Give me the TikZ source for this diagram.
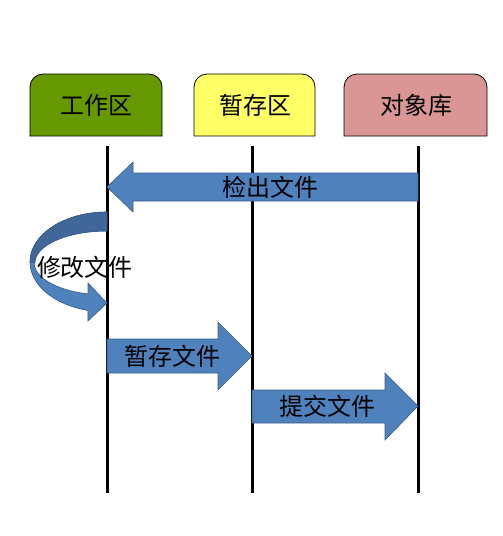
\documentclass[tikz,border=0pt]{standalone}
\usepackage{fontspec}
\setmainfont{Noto Sans CJK SC}
\definecolor{boxgreen}{HTML}{669900}
\definecolor{boxyellow}{HTML}{FFFF66}
\definecolor{boxpink}{HTML}{D99694}
\definecolor{arrowblue}{HTML}{4F81BD}
\definecolor{arrowedge}{HTML}{385D8A}
\definecolor{arrowdark}{HTML}{41679A}
\begin{document}
\begin{tikzpicture}[x=1pt,y=-1pt,
  areabox/.style={draw=black, line width=0.8pt},
  lifeline/.style={line width=3pt, black},
  blockarrow/.style={fill=arrowblue, draw=arrowedge, line width=0.6pt, line join=miter},
  backpart/.style={fill=arrowdark, draw=arrowedge, line width=0.6pt},
  lbl/.style={font=\fontsize{24}{28}\selectfont, text=black, inner sep=0pt}]
\useasboundingbox (0,0) rectangle (503,536);

% area boxes (rounded top corners only)
\draw[areabox, fill=boxgreen] (30,136) [rounded corners=13pt] -- (30,74) -- (162,74) [sharp corners] -- (162,136) -- cycle;
\draw[areabox, fill=boxyellow] (194,136) [rounded corners=13pt] -- (194,74) -- (315,74) [sharp corners] -- (315,136) -- cycle;
\draw[areabox, fill=boxpink] (344,136) [rounded corners=13pt] -- (344,74) -- (487,74) [sharp corners] -- (487,136) -- cycle;

\node[lbl] (work) at (96,105) {工作区};
\node[lbl] (stage) at (255,105) {暂存区};
\node[lbl] (repo) at (416,105) {对象库};

% lifelines
\coordinate (wtop) at (107,146);  \coordinate (wbot) at (107,493);
\coordinate (stop) at (252,146);  \coordinate (sbot) at (252,493);
\coordinate (rtop) at (418,146);  \coordinate (rbot) at (418,493);
\draw[lifeline] (wtop) -- (wbot);
\draw[lifeline] (stop) -- (sbot);
\draw[lifeline] (rtop) -- (rbot);

% checkout arrow (repo -> work)
\draw[blockarrow] (418,173) -- (133,173) -- (133,162) -- (107,187) -- (133,212) -- (133,201) -- (418,201) -- cycle;
\node[lbl] (checkout) at (270,187) {检出文件};

% modify: curved arrow on work lifeline
\draw[blockarrow] (107,212) arc[start angle=90, end angle=255.7, x radius=77pt, y radius=50pt]
  -- (88,321) -- (107,303) -- (88,283) -- (88,293.9)
  arc[start angle=255.3, end angle=90, x radius=72pt, y radius=32pt] -- cycle;
\draw[backpart] (107,212) arc[start angle=90, end angle=180, x radius=77pt, y radius=50pt]
  -- (35,263) arc[start angle=180, end angle=90, x radius=72pt, y radius=32pt] -- cycle;
\node[lbl] (modify) at (85,267) {修改文件};

% stage arrow (work -> stage)
\draw[blockarrow] (107,339) -- (218,339) -- (218,322) -- (252,356) -- (218,390) -- (218,373) -- (107,373) -- cycle;
\node[lbl] (stagefile) at (172,356) {暂存文件};

% commit arrow (stage -> repo)
\draw[blockarrow] (252,390) -- (385,390) -- (385,373) -- (418,406) -- (385,440) -- (385,423) -- (252,423) -- cycle;
\node[lbl] (commit) at (327,406) {提交文件};
\end{tikzpicture}
\end{document}
